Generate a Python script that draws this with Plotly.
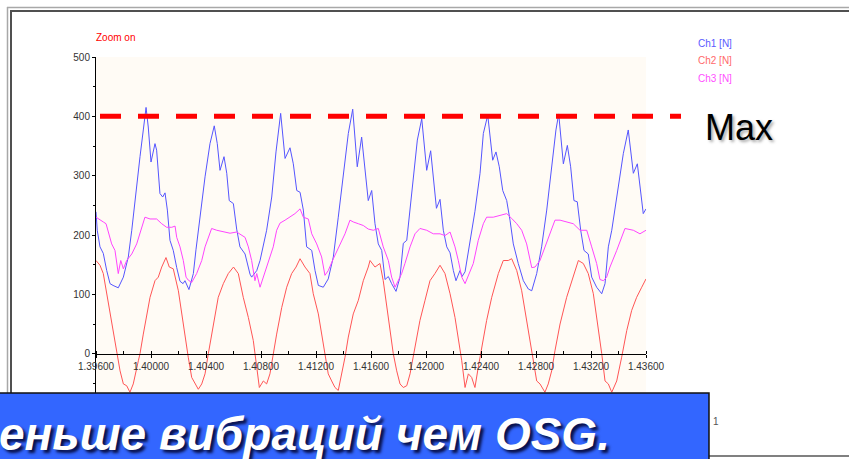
import plotly.graph_objects as go

# ---------------- data ----------------
ch1_t = [1.39600,1.39609,1.39629,1.39653,1.39678,1.39702,1.39724,1.39762,1.39799,1.39835,
         1.39860,1.39884,1.39920,1.39944,1.39964,1.39980,1.40000,1.40029,1.40041,1.40065,
         1.40085,1.40102,1.40119,1.40138,1.40162,1.40187,1.40211,1.40233,1.40247,1.40276,
         1.40308,1.40327,1.40356,1.40393,1.40429,1.40460,1.40482,1.40502,1.40531,1.40551,
         1.40569,1.40599,1.40623,1.40647,1.40684,1.40720,1.40732,1.40769,1.40793,1.40817,
         1.40841,1.40878,1.40909,1.40943,1.40975,1.41011,1.41035,1.41060,1.41084,1.41108,
         1.41132,1.41169,1.41193,1.41217,1.41253,1.41289,1.41326,1.41362,1.41399,1.41435,
         1.41467,1.41500,1.41532,1.41556,1.41580,1.41605,1.41629,1.41653,1.41678,1.41702,
         1.41726,1.41750,1.41782,1.41811,1.41835,1.41860,1.41884,1.41908,1.41937,1.41969,
         1.42005,1.42034,1.42058,1.42076,1.42102,1.42126,1.42151,1.42175,1.42199,1.42218,
         1.42247,1.42262,1.42284,1.42320,1.42356,1.42393,1.42417,1.42449,1.42485,1.42509,
         1.42533,1.42558,1.42587,1.42611,1.42635,1.42671,1.42708,1.42744,1.42769,1.42805,
         1.42841,1.42878,1.42914,1.42945,1.42965,1.42999,1.43028,1.43052,1.43076,1.43100,
         1.43125,1.43149,1.43180,1.43205,1.43241,1.43278,1.43302,1.43326,1.43351,1.43387,
         1.43399,1.43435,1.43471,1.43508,1.43537,1.43561,1.43580,1.43600]
ch1_v = [239,208,180,169,140,118,115,111,129,163,
         208,262,332,377,415,382,323,354,343,270,
         264,271,242,191,174,145,122,118,123,108,
         135,175,230,298,354,384,354,309,332,304,
         258,253,210,180,168,134,129,140,157,180,
         208,264,340,405,329,347,320,275,272,242,
         180,174,140,115,112,126,163,230,304,371,
         412,315,365,315,258,275,219,185,174,125,
         130,118,105,129,186,191,242,292,360,396,
         309,342,287,245,260,208,180,170,140,123,
         140,130,138,190,240,304,371,402,326,340,
         315,275,258,225,185,152,123,109,106,135,
         180,242,315,377,404,320,351,315,258,256,
         208,174,168,129,112,101,118,180,208,264,
         275,337,377,304,320,275,236,244]

ch2_t = [1.39600,1.39629,1.39653,1.39678,1.39702,1.39726,1.39751,1.39775,1.39799,1.39823,
         1.39847,1.39871,1.39908,1.39920,1.39944,1.39969,1.39993,1.40029,1.40053,1.40078,
         1.40109,1.40133,1.40162,1.40199,1.40223,1.40247,1.40271,1.40296,1.40320,1.40344,
         1.40369,1.40393,1.40417,1.40441,1.40465,1.40489,1.40526,1.40562,1.40600,1.40635,
         1.40671,1.40708,1.40744,1.40769,1.40788,1.40817,1.40841,1.40865,1.40889,1.40914,
         1.40951,1.40987,1.41023,1.41055,1.41084,1.41120,1.41156,1.41180,1.41217,1.41241,
         1.41265,1.41289,1.41314,1.41338,1.41362,1.41387,1.41411,1.41435,1.41471,1.41508,
         1.41544,1.41580,1.41593,1.41629,1.41665,1.41689,1.41714,1.41738,1.41762,1.41787,
         1.41811,1.41835,1.41860,1.41884,1.41908,1.41932,1.41956,1.41993,1.42029,1.42065,
         1.42102,1.42138,1.42175,1.42211,1.42235,1.42260,1.42284,1.42308,1.42332,1.42356,
         1.42380,1.42405,1.42441,1.42478,1.42526,1.42562,1.42598,1.42623,1.42660,1.42696,
         1.42732,1.42756,1.42780,1.42805,1.42829,1.42865,1.42889,1.42914,1.42938,1.42975,
         1.43023,1.43060,1.43108,1.43144,1.43180,1.43217,1.43253,1.43278,1.43302,1.43326,
         1.43351,1.43387,1.43423,1.43460,1.43496,1.43532,1.43569,1.43600]
ch2_v = [157,149,135,101,67,33,5,-29,-51,-54,
         -65,-51,-12,0,33,67,95,123,129,146,
         162,146,143,106,67,33,-6,-40,-51,-60,
         -51,-34,0,33,67,95,118,135,146,135,
         95,61,22,-23,-57,-46,-51,-34,0,33,
         78,112,135,146,160,146,135,101,67,33,
         -6,-34,-46,-57,-62,-34,-6,28,67,90,
         123,146,157,146,152,123,78,39,0,-29,
         -51,-57,-54,-34,-6,28,56,90,123,135,
         149,135,101,61,28,-12,-57,-34,-40,-57,
         -23,11,56,95,135,157,157,160,140,106,
         56,16,-12,-46,-51,-65,-51,-29,5,50,
         95,123,157,152,135,101,44,0,-46,-51,
         -65,-46,-6,39,73,95,112,126]

ch3_t = [1.39600,1.39629,1.39653,1.39673,1.39689,1.39714,1.39738,1.39762,1.39780,1.39799,
         1.39823,1.39860,1.39896,1.39920,1.39956,1.39993,1.40041,1.40078,1.40114,1.40151,
         1.40175,1.40187,1.40211,1.40235,1.40255,1.40271,1.40296,1.40332,1.40369,1.40393,
         1.40417,1.40441,1.40478,1.40526,1.40575,1.40623,1.40660,1.40684,1.40708,1.40732,
         1.40756,1.40769,1.40793,1.40817,1.40853,1.40889,1.40914,1.40938,1.40975,1.41011,
         1.41047,1.41084,1.41108,1.41144,1.41169,1.41205,1.41241,1.41265,1.41289,1.41326,
         1.41375,1.41411,1.41447,1.41471,1.41508,1.41544,1.41580,1.41617,1.41653,1.41689,
         1.41726,1.41750,1.41775,1.41799,1.41823,1.41847,1.41884,1.41920,1.41956,1.42005,
         1.42053,1.42102,1.42138,1.42175,1.42211,1.42235,1.42260,1.42284,1.42308,1.42344,
         1.42380,1.42417,1.42441,1.42489,1.42538,1.42587,1.42623,1.42660,1.42696,1.42732,
         1.42769,1.42793,1.42829,1.42865,1.42902,1.42938,1.42975,1.43023,1.43071,1.43120,
         1.43169,1.43205,1.43241,1.43265,1.43290,1.43314,1.43338,1.43387,1.43423,1.43447,
         1.43508,1.43556,1.43600]
ch3_v = [230,225,222,219,205,185,174,135,157,143,
         157,168,185,202,230,227,227,219,213,213,
         215,196,180,157,129,124,120,135,157,180,
         196,211,208,205,203,205,199,196,180,157,
         123,135,112,129,152,180,208,220,225,230,
         236,244,230,227,202,185,163,132,140,160,
         185,202,225,222,219,216,210,208,211,180,
         157,129,112,123,135,152,180,202,211,208,
         202,202,199,205,180,157,129,118,132,152,
         191,219,230,230,233,236,228,219,208,185,
         145,146,157,180,202,225,225,222,219,208,
         208,180,152,125,123,129,146,174,196,211,
         208,202,208]

series_names = ["Ch1 [N]", "Ch2 [N]", "Ch3 [N]"]
series_colors = ["#5555ff", "#ff5555", "#ff44ff"]
label_colors = ["#5a5aff", "#ff6a6a", "#ff50ff"]
max_level = 400
x_range = [1.396, 1.436]
y_range = [-100, 500]
y_tick_values = [0, 100, 200, 300, 400, 500]
banner_text = "еньше вибраций чем OSG."

# ---------------- layout helpers (pixel -> paper) ----------------
W, H = 849, 459
ML, MR, MT, MB = 96, 203, 57, 46
PW, PH = W - ML - MR, H - MT - MB


def px(xp):
    return (xp - ML) / PW


def py(yp):
    return (H - MB - yp) / PH


small = "Liberation Sans Narrow, Arial Narrow, Liberation Sans, Arial, sans-serif"

fig = go.Figure()
for t, v, name, col in zip([ch1_t, ch2_t, ch3_t], [ch1_v, ch2_v, ch3_v],
                           series_names, series_colors):
    fig.add_trace(go.Scatter(x=t, y=v, mode="lines", name=name,
                             line=dict(color=col, width=1), showlegend=False,
                             hoverinfo="skip"))

zero_pos = (0 - y_range[0]) / (y_range[1] - y_range[0])

fig.update_layout(
    width=W, height=H,
    margin=dict(l=ML, r=MR, t=MT, b=MB, pad=0),
    paper_bgcolor="white",
    plot_bgcolor="#fffbf5",
    xaxis=dict(range=x_range, tick0=1.396, dtick=0.004, tickformat=".5f",
               anchor="free", position=zero_pos,
               showline=True, linecolor="black", linewidth=1,
               ticks="outside", ticklen=3, tickcolor="black",
               minor=dict(dtick=0.002, ticks="inside", ticklen=3, tickcolor="black"),
               showgrid=False, zeroline=False,
               tickfont=dict(family=small, size=10, color="#333333")),
    yaxis=dict(range=y_range, tickmode="array", tickvals=y_tick_values,
               showline=True, linecolor="black", linewidth=1,
               ticks="outside", ticklen=3, tickcolor="black",
               minor=dict(tickmode="linear", tick0=0, dtick=50, ticks="outside",
                          ticklen=2, tickcolor="black"),
               showgrid=False, zeroline=False,
               tickfont=dict(family=small, size=10, color="#333333")),
)

shapes = [
    # window frame
    dict(type="line", xref="paper", yref="paper", x0=px(7), x1=px(849), y0=py(7.5), y1=py(7.5),
         line=dict(color="#a8a8a8", width=1.5), layer="above"),
    dict(type="line", xref="paper", yref="paper", x0=px(10), x1=px(849), y0=py(11), y1=py(11),
         line=dict(color="#505050", width=2), layer="above"),
    dict(type="line", xref="paper", yref="paper", x0=px(7.5), x1=px(7.5), y0=py(7), y1=py(459),
         line=dict(color="#a8a8a8", width=1.5), layer="above"),
    dict(type="line", xref="paper", yref="paper", x0=px(11), x1=px(11), y0=py(10), y1=py(459),
         line=dict(color="#505050", width=2), layer="above"),
    dict(type="line", xref="paper", yref="paper", x0=px(709), x1=px(849), y0=py(456), y1=py(456),
         line=dict(color="#808080", width=2), layer="above"),
    # max line
    dict(type="line", xref="paper", yref="y", x0=px(100), x1=px(681), y0=max_level, y1=max_level,
         line=dict(color="#ff0000", width=5, dash="21px,17px"), layer="above"),
    # banner box
    dict(type="rect", xref="paper", yref="paper", x0=px(-5), x1=px(709), y0=py(470), y1=py(393),
         fillcolor="#3366ff", line=dict(color="#111111", width=1.5), layer="above"),
]
fig.update_layout(shapes=shapes)

ann = [
    dict(text="Zoom on", x=px(94), y=py(37.5), xanchor="left", yanchor="middle",
         font=dict(family=small, size=10, color="#ff0000")),
    dict(text="Max", x=px(702.5), y=py(127.5), xanchor="left", yanchor="middle",
         font=dict(family="Liberation Sans, Arial, sans-serif", size=36, color="black",
                   shadow="2px 2px 3px rgba(0,0,0,0.35)")),
    dict(text=banner_text, x=px(612), y=py(434), xanchor="right", yanchor="middle",
         font=dict(family="Liberation Sans, Arial, sans-serif", size=46, color="white",
                   weight="bold", style="italic",
                   shadow="3px 3px 3px rgba(0,0,40,0.85)")),
    dict(text="1", x=px(711), y=py(421), xanchor="left", yanchor="middle",
         font=dict(family=small, size=10, color="#555555")),
]
for i, (name, col) in enumerate(zip(series_names, label_colors)):
    ann.append(dict(text=name, x=px(696), y=py(43 + 17.5 * i), xanchor="left", yanchor="middle",
                    font=dict(family=small, size=10, color=col)))
for a in ann:
    a.update(xref="paper", yref="paper", showarrow=False)
fig.update_layout(annotations=ann)

fig.write_html("out.html")
